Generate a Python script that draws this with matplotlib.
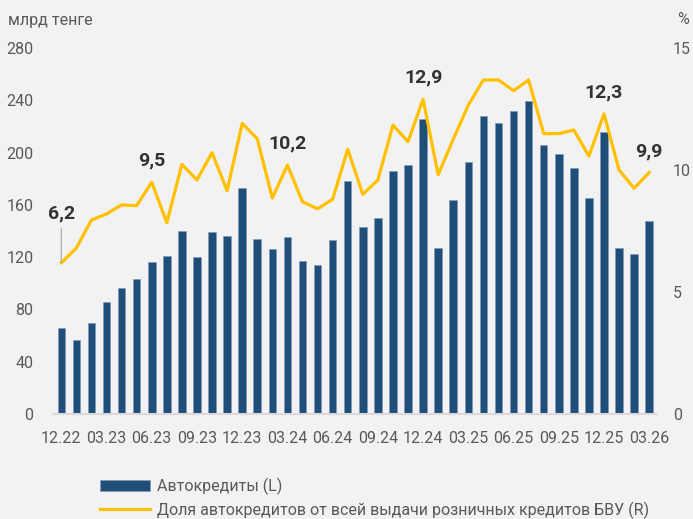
import matplotlib
matplotlib.use('Agg')
import matplotlib.pyplot as plt
import numpy as np

# monthly auto loans, 12.22 .. 03.26 (bn tenge)
auto_loans = [65.8, 56.6, 69.4, 86.0, 96.4, 103.3, 116.0, 121.0, 140.3, 120.4,
              139.2, 136.2, 173.2, 134.1, 126.5, 135.2, 117.3, 113.8, 133.1, 178.0,
              143.0, 150.0, 186.2, 190.3, 226.0, 126.8, 163.7, 192.8, 228.0, 222.4,
              231.8, 239.2, 205.6, 198.9, 188.0, 165.5, 215.5, 126.8, 122.7, 147.9]
# share of auto loans in retail lending, %
share = [6.2, 6.8, 7.95, 8.2, 8.57, 8.54, 9.5, 7.84, 10.23, 9.59,
         10.71, 9.15, 11.91, 11.28, 8.85, 10.2, 8.70, 8.41, 8.8, 10.85,
         9.0, 9.59, 11.84, 11.16, 12.9, 9.81, 11.26, 12.66, 13.69, 13.69,
         13.25, 13.69, 11.49, 11.49, 11.64, 10.57, 12.3, 10.0, 9.25, 9.9]
tick_labels = ["12.22", "03.23", "06.23", "09.23", "12.23", "03.24", "06.24",
               "09.24", "12.24", "03.25", "06.25", "09.25", "12.25", "03.26"]
# annotated points: index -> label
notes = {0: "6,2", 6: "9,5", 15: "10,2", 24: "12,9", 36: "12,3", 39: "9,9"}

plt.rcParams['font.family'] = ['Roboto', 'DejaVu Sans']
fs = 11.5

bg = '#f2f2f2'
grey = '#595959'
blue = '#1f4e79'
gold = '#ffc000'

fig = plt.figure(figsize=(6.93, 5.19), dpi=100, facecolor=bg)
ax = fig.add_axes([53 / 693, 1 - 414 / 519, (656 - 53) / 693, (414 - 48) / 519])
ax.set_facecolor(bg)
x = np.arange(len(auto_loans))

ax.bar(x, auto_loans, width=0.5, color=blue, edgecolor='#7f9cbb', linewidth=0.5,
       label='Автокредиты (L)')
ax.set_xlim(-0.55, 39.45)
ax.set_ylim(0, 280)
ax.set_yticks(range(0, 281, 40))
ax.set_xticks(range(0, 40, 3))
ax.set_xticklabels(tick_labels)
ax.tick_params(length=0, labelsize=fs, colors=grey)
ax.tick_params(axis='x', pad=12)
ax.tick_params(axis='y', pad=14)
for s in ['top', 'right', 'left']:
    ax.spines[s].set_visible(False)
ax.spines['bottom'].set_color('#d9d9d9')
ax.spines['bottom'].set_linewidth(1.5)

ax2 = ax.twinx()
ax2.plot(x, share, color=gold, lw=2.3, label='Доля автокредитов от всей выдачи розничных кредитов БВУ (R)')
ax2.set_ylim(0, 15)
ax2.set_yticks([0, 5, 10, 15])
ax2.tick_params(length=0, labelsize=fs, colors=grey, pad=12)
for s in ax2.spines.values():
    s.set_visible(False)

for i, txt in notes.items():
    if i == 0:
        ax2.annotate(txt, (x[i], share[i]), xytext=(0, 29), textcoords='offset points',
                     ha='center', va='bottom', fontsize=14, fontweight='bold', color='#333333',
                     arrowprops=dict(arrowstyle='-', color='#a6a6a6', lw=0.8, shrinkA=2, shrinkB=0))
    else:
        ax2.annotate(txt, (x[i], share[i]), xytext=(0, 9), textcoords='offset points',
                     ha='center', va='bottom', fontsize=14, fontweight='bold', color='#333333')

fig.text(8 / 693, 1 - 20 / 519, 'млрд тенге', fontsize=fs, color=grey, va='center')
fig.text(683 / 693, 1 - 20 / 519, '%', fontsize=fs, color=grey, va='center', ha='center')

h1, l1 = ax.get_legend_handles_labels()
h2, l2 = ax2.get_legend_handles_labels()
fig.legend(h1 + h2, l1 + l2, loc='upper left', bbox_to_anchor=(100 / 693, 1 - 478 / 519),
           frameon=False, fontsize=fs, labelcolor=grey, handlelength=3.1,
           labelspacing=0.4, handletextpad=0.45, borderpad=0, borderaxespad=0)

fig.savefig('out.png', dpi=100, facecolor=bg)
